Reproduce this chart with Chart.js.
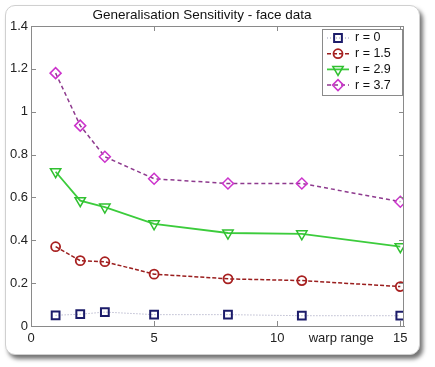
<!DOCTYPE html>
<html>
<head>
<meta charset="utf-8">
<script src="https://cdn.jsdelivr.net/npm/chart.js@4"></script>
<style>
  html, body { margin: 0; padding: 0; background: #fff; }
  #frame {
    position: absolute; left: 5px; top: 5px; width: 413px; height: 348px;
    border: 1px solid #d0d0d0; border-radius: 10px; background: #fff;
    box-shadow: 3px 4px 4px rgba(0,0,0,0.55);
  }
  #wrap { position: absolute; left: 0; top: 0; width: 435px; height: 367px; }
</style>
</head>
<body>
<div id="frame"></div>
<div id="wrap"><canvas id="myChart" width="435" height="367"></canvas></div>
<script>
const warpRange = [1, 2, 3, 5, 8, 11, 15];
const r0  = [0.05, 0.055, 0.065, 0.053, 0.053, 0.048, 0.048];
const r15 = [0.37, 0.305, 0.30, 0.242, 0.22, 0.212, 0.184];
const r29 = [0.72, 0.585, 0.555, 0.477, 0.434, 0.43, 0.37];
const r37 = [1.18, 0.935, 0.79, 0.687, 0.665, 0.665, 0.58];
const seriesLabels = ["r = 0", "r = 1.5", "r = 2.9", "r = 3.7"];
const xTicks = [0, 5, 10, 15];
const yTicks = [0, 0.2, 0.4, 0.6, 0.8, 1, 1.2, 1.4];

function pts(ys) {
  return warpRange.map((x, i) => ({ x: x, y: ys[i] }));
}

// inward ticks, top/right box, "warp range" label and legend box
const matlabAxes = {
  id: "matlabAxes",
  afterDraw(chart) {
    const ctx = chart.ctx;
    const a = chart.chartArea;
    const xs = chart.scales.x, ys = chart.scales.y;
    ctx.save();
    ctx.strokeStyle = "#8a8a8a";
    ctx.lineWidth = 1;
    ctx.strokeRect(a.left + 0.5, a.top + 0.5, a.right - a.left - 1, a.bottom - a.top);
    ctx.beginPath();
    xTicks.forEach(v => {
      const px = Math.round(xs.getPixelForValue(v)) + 0.5;
      ctx.moveTo(px, a.bottom); ctx.lineTo(px, a.bottom - 5);
      ctx.moveTo(px, a.top); ctx.lineTo(px, a.top + 5);
    });
    yTicks.forEach(v => {
      const py = Math.round(ys.getPixelForValue(v)) + 0.5;
      ctx.moveTo(a.left, py); ctx.lineTo(a.left + 5, py);
      ctx.moveTo(a.right, py); ctx.lineTo(a.right - 5, py);
    });
    ctx.stroke();

    ctx.fillStyle = "#222";
    ctx.font = "13px 'Liberation Sans', Arial, sans-serif";
    ctx.textAlign = "center";
    ctx.textBaseline = "middle";
    ctx.fillText("warp range", xs.getPixelForValue(12.6), a.bottom + 12);

    // legend
    const lx = 322, ly = 29, lw = 80, lh = 66;
    ctx.fillStyle = "#fff";
    ctx.fillRect(lx, ly, lw, lh);
    ctx.strokeStyle = "#8a8a8a";
    ctx.strokeRect(lx + 0.5, ly + 0.5, lw, lh);
    chart.data.datasets.forEach((ds, i) => {
      const y = ly + 9 + i * 15.7;
      ctx.save();
      ctx.strokeStyle = ds.borderColor;
      ctx.lineWidth = ds.borderWidth;
      ctx.setLineDash(ds.borderDash || []);
      ctx.beginPath();
      ctx.moveTo(lx + 5, y); ctx.lineTo(lx + 27, y);
      ctx.stroke();
      ctx.restore();
      ctx.save();
      ctx.strokeStyle = ds.pointBorderColor;
      ctx.fillStyle = "rgba(255,255,255,0)";
      ctx.lineWidth = ds.pointBorderWidth;
      Chart.helpers.drawPoint(ctx, {
        pointStyle: ds.pointStyle, radius: ds.pointRadius, rotation: ds.pointRotation || 0,
        borderWidth: ds.pointBorderWidth
      }, lx + 16, y);
      ctx.restore();
      ctx.fillStyle = "#111";
      ctx.textAlign = "left";
      ctx.textBaseline = "middle";
      ctx.font = "12.5px 'Liberation Sans', Arial, sans-serif";
      ctx.fillText(ds.label, lx + 33, y);
    });
    ctx.restore();
  }
};

const ctx = document.getElementById("myChart");
new Chart(ctx, {
  type: "line",
  data: {
    datasets: [
      {
        label: seriesLabels[0], data: pts(r0),
        borderColor: "#9a9ab8", borderWidth: 1, borderDash: [1, 2],
        pointStyle: "rect", pointRadius: 5.5, pointBorderWidth: 2,
        pointBorderColor: "#1c1c6a", pointBackgroundColor: "rgba(255,255,255,0)"
      },
      {
        label: seriesLabels[1], data: pts(r15),
        borderColor: "#9a1e1e", borderWidth: 1.5, borderDash: [4, 2],
        pointStyle: "circle", pointRadius: 4.5, pointBorderWidth: 1.8,
        pointBorderColor: "#a82020", pointBackgroundColor: "rgba(255,255,255,0)"
      },
      {
        label: seriesLabels[2], data: pts(r29),
        borderColor: "#3ccc3c", borderWidth: 1.8,
        pointStyle: "triangle", pointRotation: 180, pointRadius: 6, pointBorderWidth: 1.5,
        pointBorderColor: "#30c030", pointBackgroundColor: "rgba(255,255,255,0)"
      },
      {
        label: seriesLabels[3], data: pts(r37),
        borderColor: "#8e3a8e", borderWidth: 1.5, borderDash: [4, 3],
        pointStyle: "rectRot", pointRadius: 5.5, pointBorderWidth: 1.5,
        pointBorderColor: "#cc33cc", pointBackgroundColor: "rgba(255,255,255,0)"
      }
    ]
  },
  options: {
    responsive: false,
    animation: false,
    layout: { padding: { left: 0, right: 31, top: 0, bottom: 0 }, autoPadding: false },
    plugins: {
      legend: { display: false },
      tooltip: { enabled: false },
      title: {
        display: true,
        text: "Generalisation Sensitivity - face data",
        color: "#111",
        font: { size: 13.5, family: "'Liberation Sans', Arial, sans-serif", weight: "normal" },
        padding: { top: 7, bottom: 2.8 }
      }
    },
    scales: {
      x: {
        type: "linear", min: 0, max: 15.15,
        afterBuildTicks: s => { s.ticks = xTicks.map(v => ({ value: v })); },
        afterFit: s => { s.height = 41; },
        grid: { drawOnChartArea: false, drawTicks: false },
        border: { color: "#8a8a8a" },
        ticks: {
          padding: 5, color: "#222", maxRotation: 0,
          font: { size: 13, family: "'Liberation Sans', Arial, sans-serif" }
        }
      },
      y: {
        min: 0, max: 1.4,
        afterBuildTicks: s => { s.ticks = yTicks.map(v => ({ value: v })); },
        afterFit: s => { s.width = 31; },
        grid: { drawOnChartArea: false, drawTicks: false },
        border: { color: "#8a8a8a" },
        ticks: {
          padding: 3, color: "#222",
          font: { size: 13, family: "'Liberation Sans', Arial, sans-serif" },
          callback: v => String(Number(v.toFixed(1)))
        }
      }
    }
  },
  plugins: [matlabAxes]
});
</script>
</body>
</html>
